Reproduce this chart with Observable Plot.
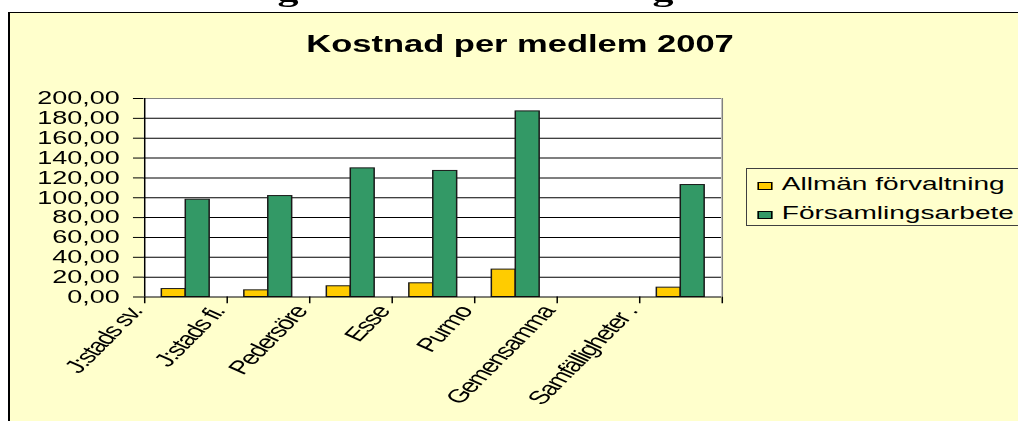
<!DOCTYPE html>
<html>
<head>
<meta charset="utf-8">
<script src="https://cdn.jsdelivr.net/npm/d3@7"></script>
<script src="https://cdn.jsdelivr.net/npm/@observablehq/plot@0.6"></script>
<style>
  html, body { margin: 0; padding: 0; background: #fff; overflow: hidden; width: 1018px; height: 421px; }
  #frame { position: absolute; left: 8px; top: 12px; width: 1100px; height: 460px; background: #FFFFCC; border-left: 2px solid #000; border-top: 1.4px solid #000; box-sizing: border-box; }
  #wrap { position: absolute; left: 0; top: 0; width: 679px; height: 421px; transform: scaleX(1.5); transform-origin: 0 0; font-family: Arial, "Liberation Sans", sans-serif; }
  #heading { position: absolute; left: 0; top: 0; width: 679px; height: 11px; overflow: hidden; font: bold 28px "Liberation Serif", "DejaVu Serif", serif; line-height: 28px; color: #000; }
  #heading span { position: absolute; top: -22.4px; }
  #chart { position: absolute; left: 0; top: 0; }
  #title { position: absolute; left: 346.7px; top: 33px; transform: translateX(-50%); font: bold 23px Arial, "Liberation Sans", sans-serif; line-height: 1; white-space: nowrap; color: #000; }
  #legend { position: absolute; left: 497.2px; top: 168px; width: 260px; height: 58px; border: 1px solid #404040; box-sizing: border-box; background: #FFFFCC; }
  .item { position: absolute; left: 7px; height: 20px; font: 18.7px Arial, "Liberation Sans", sans-serif; line-height: 20px; white-space: nowrap; color: #000; }
  .sw { display: inline-block; width: 10px; height: 8px; border: 1px solid #000; box-sizing: border-box; margin-right: 6px; vertical-align: 0px; }
</style>
</head>
<body>
<div id="frame"></div>
<div id="wrap">
  <div id="heading"><span style="left:185px">g</span><span style="left:435px">g</span></div>
  <div id="chart"></div>
  <div id="title">Kostnad per medlem 2007</div>
  <div id="legend"></div>
</div>
<script>
// ---- data ----
const categories = ["J:stads sv.", "J:stads fi.", "Pedersöre", "Esse", "Purmo", "Gemensamma", "Samfälligheter ."];
const allmanForvaltning = [8.0, 6.7, 10.8, 13.8, 27.6, null, 9.4];
const forsamlingsarbete = [98.0, 101.7, 129.6, 127.0, 187.0, null, 112.8];
const seriesNames = ["Allmän förvaltning", "Församlingsarbete"];
const seriesColors = ["#FFCC00", "#339966"];
const yTicks = [0, 20, 40, 60, 80, 100, 120, 140, 160, 180, 200];

// ---- layout (unscaled; page is stretched 1.5x horizontally) ----
const W = 679, H = 421;
const mL = 95.33, mR = W - 480.67, mT = 98, mB = H - 296.5;
const bw = (W - mL - mR) / categories.length;

const rowsA = categories.map((c, i) => ({cat: c, value: allmanForvaltning[i]})).filter(d => d.value != null);
const rowsF = categories.map((c, i) => ({cat: c, value: forsamlingsarbete[i]})).filter(d => d.value != null);
const last = categories[categories.length - 1];
const fmt = d => d.toFixed(2).replace(".", ",");

const chart = Plot.plot({
  width: W, height: H,
  marginLeft: mL, marginRight: mR, marginTop: mT, marginBottom: mB,
  style: {background: "transparent", fontFamily: "Arial, 'Liberation Sans', sans-serif", fontSize: "18px", color: "#000", overflow: "visible"},
  x: {domain: categories, padding: 0, axis: null},
  y: {domain: [0, 200], ticks: yTicks, tickFormat: fmt, tickSize: 6.7, tickPadding: 9.3, label: null},
  marks: [
    Plot.frame({fill: "white", stroke: null}),
    Plot.ruleY(yTicks.filter(d => d > 0 && d < 200), {stroke: "#000", strokeWidth: 1}),
    Plot.ruleY([200], {stroke: "#808080", strokeWidth: 1}),
    Plot.ruleX([last], {x: d => d, dx: bw / 2, stroke: "#808080", strokeWidth: 1}),
    Plot.barY(rowsA, {x: "cat", y: "value", fill: seriesColors[0], stroke: "#1a1a1a", strokeWidth: 1, insetLeft: 0.21 * bw, insetRight: 0.5 * bw}),
    Plot.barY(rowsF, {x: "cat", y: "value", fill: seriesColors[1], stroke: "#1a1a1a", strokeWidth: 1, insetLeft: 0.5 * bw, insetRight: 0.21 * bw}),
    Plot.ruleX([categories[0]], {x: d => d, dx: -bw / 2, stroke: "#000", strokeWidth: 1}),
    Plot.ruleY([0], {stroke: "#000", strokeWidth: 1}),
    Plot.ruleX(categories, {x: d => d, dx: -bw / 2, y1: 0, y2: -6.8, stroke: "#000"}),
    Plot.ruleX([last], {x: d => d, dx: bw / 2, y1: 0, y2: -6.8, stroke: "#000"}),
    Plot.text(categories, {x: d => d, frameAnchor: "bottom", dx: -bw / 2 - 6, dy: 11, rotate: -56, textAnchor: "end", lineAnchor: "middle", fontSize: 19, fill: "#000", className: "xlab"})
  ]
});
document.getElementById("chart").appendChild(chart);
// tight letter spacing for the category labels, as in the original
d3.select(chart).selectAll(".xlab text").style("letter-spacing", "-1.1px");

// legend built from series
const legend = d3.select("#legend");
seriesNames.forEach((name, i) => {
  const it = legend.append("div").attr("class", "item").style("top", (5 + i * 29) + "px");
  it.append("span").attr("class", "sw").style("background", seriesColors[i]);
  it.append("span").text(name);
});
</script>
</body>
</html>
